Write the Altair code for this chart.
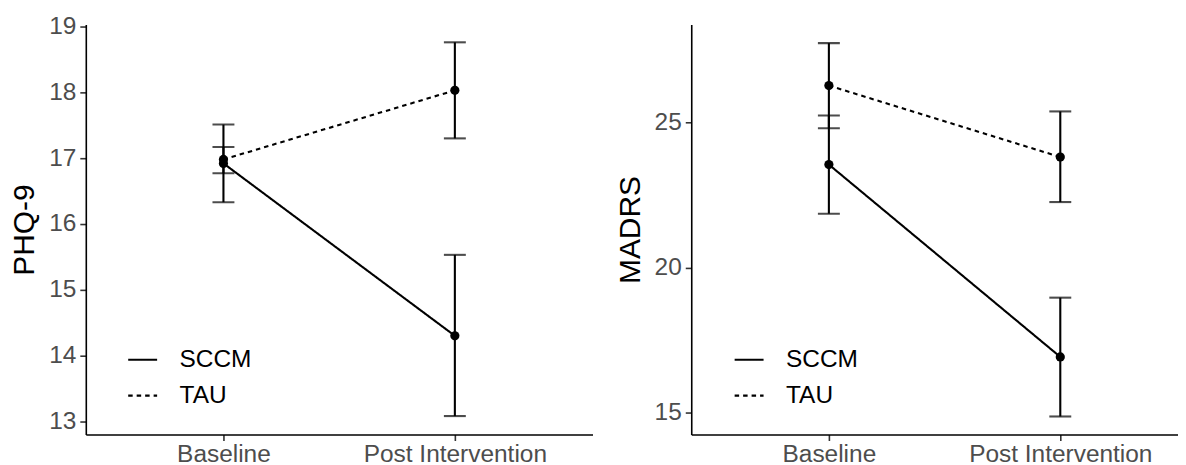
import altair as alt
import pandas as pd

FONT = "Liberation Sans, Arial, Helvetica, sans-serif"

times = ["Baseline", "Post Intervention"]
groups = ["SCCM", "TAU"]

# PHQ-9 (mean, lower, upper) per group, Baseline then Post Intervention
phq_sccm_mean = [16.92, 14.30]
phq_sccm_lo = [16.33, 13.08]
phq_sccm_hi = [17.51, 15.53]
phq_tau_mean = [16.98, 18.03]
phq_tau_lo = [16.77, 17.30]
phq_tau_hi = [17.17, 18.76]

# MADRS
madrs_sccm_mean = [23.54, 16.92]
madrs_sccm_lo = [21.85, 14.87]
madrs_sccm_hi = [25.23, 18.96]
madrs_tau_mean = [26.26, 23.80]
madrs_tau_lo = [24.79, 22.25]
madrs_tau_hi = [27.72, 25.37]

phq_ticks = [13, 14, 15, 16, 17, 18, 19]
madrs_ticks = [15, 20, 25]


def frame(sccm_m, sccm_l, sccm_h, tau_m, tau_l, tau_h):
    rows = []
    for g, m, l, h in [("SCCM", sccm_m, sccm_l, sccm_h), ("TAU", tau_m, tau_l, tau_h)]:
        for i, t in enumerate(times):
            rows.append({"group": g, "time": t, "mean": m[i], "lo": l[i], "hi": h[i]})
    return pd.DataFrame(rows)


df_phq = frame(phq_sccm_mean, phq_sccm_lo, phq_sccm_hi, phq_tau_mean, phq_tau_lo, phq_tau_hi)
df_madrs = frame(madrs_sccm_mean, madrs_sccm_lo, madrs_sccm_hi, madrs_tau_mean, madrs_tau_lo, madrs_tau_hi)

LW = 2.1
LABEL_SIZE = 24.5


def panel(df, title, domain, ticks, width, pad, align, lx, ly):
    xenc = alt.X(
        "time:N",
        sort=times,
        scale=alt.Scale(type="point", domain=times, padding=pad, align=align),
        axis=alt.Axis(
            title=None, labelAngle=0, labelFontSize=LABEL_SIZE, labelFont=FONT,
            labelColor="#4D4D4D", tickSize=6, tickColor="#333333", tickWidth=1.6,
            domainColor="black", domainWidth=1.6, labelPadding=2, labelLimit=0,
            grid=False,
        ),
    )

    def yenc(field):
        return alt.Y(
            f"{field}:Q",
            scale=alt.Scale(domain=domain, nice=False, zero=False),
            axis=alt.Axis(
                title=title, values=ticks, titleFontSize=30, titleFont=FONT,
                titleFontWeight="normal", titleColor="black", titlePadding=9,
                labelFontSize=LABEL_SIZE, labelFont=FONT, labelColor="#4D4D4D",
                tickSize=6, tickColor="#333333", tickWidth=1.6,
                domainColor="black", domainWidth=1.6, labelPadding=4, grid=False,
            ),
        )

    base = alt.Chart(df)
    line = base.mark_line(color="black", strokeWidth=LW).encode(
        x=xenc,
        y=yenc("mean"),
        strokeDash=alt.StrokeDash(
            "group:N",
            scale=alt.Scale(domain=groups, range=[[1, 0], [4.5, 4]]),
            legend=alt.Legend(
                title=None, orient="none", legendX=lx, legendY=ly,
                symbolType="stroke", symbolSize=841, symbolStrokeWidth=LW,
                symbolStrokeColor="black", labelFontSize=LABEL_SIZE, labelFont=FONT,
                labelColor="black", labelOffset=21, rowPadding=8, padding=0,
            ),
        ),
    )
    bars = base.mark_rule(color="black", strokeWidth=LW).encode(
        x=xenc, y=yenc("lo"), y2="hi:Q"
    )
    cap_lo = base.mark_tick(color="black", size=22, thickness=LW).encode(x=xenc, y=yenc("lo"))
    cap_hi = base.mark_tick(color="black", size=22, thickness=LW).encode(x=xenc, y=yenc("hi"))
    pts = base.mark_point(filled=True, color="black", size=85, opacity=1).encode(
        x=xenc, y=yenc("mean")
    )
    return alt.layer(bars, cap_lo, cap_hi, line, pts).properties(width=width, height=411)


left = panel(df_phq, "PHQ-9", [12.80, 19.03], phq_ticks, 508, 0.5948, 0.5, 41, 320)
right = panel(df_madrs, "MADRS", [14.25, 28.36], madrs_ticks, 488, 0.5517, 0.539, 42, 320)

chart = (
    alt.hconcat(left, right, spacing=22)
    .resolve_scale(strokeDash="independent")
    .resolve_legend(strokeDash="independent")
    .properties(padding={"top": 4, "left": 1, "right": 0, "bottom": 0}, background="white")
    .configure_view(stroke=None)
)

chart.save("out.html", embed_options={"renderer": "svg", "actions": False})
